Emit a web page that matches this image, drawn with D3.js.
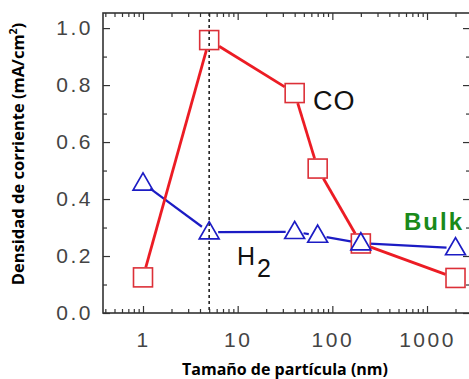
<!DOCTYPE html>
<html>
<head>
<meta charset="utf-8">
<script src="https://cdn.jsdelivr.net/npm/d3@7"></script>
<style>
  html, body { margin: 0; padding: 0; background: #fff; }
  svg { display: block; }
</style>
</head>
<body>
<div id="chart"></div>
<script>
// particle size (nm) and current density (mA/cm2)
const sizes = [1, 5, 40, 70, 200, 2000];
const coValues = [0.125, 0.958, 0.772, 0.507, 0.244, 0.123];
const h2Values = [0.455, 0.284, 0.285, 0.272, 0.245, 0.228];
const markedSize = 5;
const yTicks = [0, 0.2, 0.4, 0.6, 0.8, 1.0];
const yMinorTicks = [0.1, 0.3, 0.5, 0.7, 0.9];
const xTicks = [1, 10, 100, 1000];

const width = 469, height = 379;
const plotLeft = 103, plotRight = 470, plotTop = 13, plotBottom = 313;

const svg = d3.select('#chart').append('svg')
  .attr('width', width)
  .attr('height', height);

const x = d3.scaleLog().domain([0.378, 2845]).range([plotLeft, plotRight]);
const y = d3.scaleLinear().domain([0, 1.053]).range([plotBottom, plotTop]);

const xMinor = [];
[0.1, 1, 10, 100, 1000].forEach(dec => {
  for (let m = 2; m <= 9; m++) {
    const v = dec * m;
    if (v > x.domain()[0] && v < x.domain()[1]) xMinor.push(v);
  }
});

const tickColor = '#333';
const labelFont = 'Liberation Sans, Arial, sans-serif';

// axes with inward ticks
function drawAxis(axis, transform) {
  const g = svg.append('g').attr('transform', transform).call(axis);
  g.select('.domain').remove();
  g.selectAll('line').attr('stroke', tickColor).attr('stroke-width', 1.2);
  return g;
}

// bottom
const gb = drawAxis(d3.axisBottom(x).tickValues(xTicks).tickSize(-7).tickPadding(18)
  .tickFormat(d3.format('d')), `translate(0,${plotBottom})`);
gb.selectAll('text')
  .attr('font-family', labelFont).attr('font-size', 21).attr('fill', '#444')
  .attr('letter-spacing', 2.5).attr('dy', '0.75em');
drawAxis(d3.axisBottom(x).tickValues(xMinor).tickSize(-4).tickFormat(''), `translate(0,${plotBottom})`);

// top
drawAxis(d3.axisTop(x).tickValues(xTicks).tickSize(-7).tickFormat(''), `translate(0,${plotTop})`);
drawAxis(d3.axisTop(x).tickValues(xMinor).tickSize(-4).tickFormat(''), `translate(0,${plotTop})`);

// left
const gl = drawAxis(d3.axisLeft(y).tickValues(yTicks).tickSize(-7).tickPadding(10)
  .tickFormat(d3.format('.1f')), `translate(${plotLeft},0)`);
gl.selectAll('text')
  .attr('font-family', labelFont).attr('font-size', 21).attr('fill', '#444')
  .attr('letter-spacing', 2.5);
drawAxis(d3.axisLeft(y).tickValues(yMinorTicks).tickSize(-4).tickFormat(''), `translate(${plotLeft},0)`);

// right
drawAxis(d3.axisRight(y).tickValues(yTicks).tickSize(-7).tickFormat(''), `translate(${plotRight},0)`);
drawAxis(d3.axisRight(y).tickValues(yMinorTicks).tickSize(-4).tickFormat(''), `translate(${plotRight},0)`);

// frame
svg.append('rect')
  .attr('x', plotLeft).attr('y', plotTop)
  .attr('width', plotRight - plotLeft).attr('height', plotBottom - plotTop)
  .attr('fill', 'none').attr('stroke', tickColor).attr('stroke-width', 1.6);

// dashed marker line
svg.append('line')
  .attr('x1', x(markedSize)).attr('x2', x(markedSize))
  .attr('y1', plotTop).attr('y2', plotBottom)
  .attr('stroke', '#222').attr('stroke-width', 1.6)
  .attr('stroke-dasharray', '3,3');

// lines with gaps at the markers
function gappedSegments(values, gapFn) {
  const pts = sizes.map((s, i) => [x(s), y(values[i])]);
  const segs = [];
  for (let i = 0; i < pts.length - 1; i++) {
    const [x0, y0] = pts[i], [x1, y1] = pts[i + 1];
    const dx = x1 - x0, dy = y1 - y0, d = Math.hypot(dx, dy);
    const ux = dx / d, uy = dy / d;
    const g = gapFn(ux, uy);
    segs.push([[x0 + ux * g, y0 + uy * g], [x1 - ux * g, y1 - uy * g]]);
  }
  return segs;
}

const sqHalf = 9.5;
const squareGap = (ux, uy) => sqHalf / Math.max(Math.abs(ux), Math.abs(uy)) + 0.5;
const triGap = () => 9;

const red = '#ec1c24', blue = '#1c1cc4';

svg.append('g').selectAll('line')
  .data(gappedSegments(h2Values, triGap))
  .join('line')
  .attr('x1', d => d[0][0]).attr('y1', d => d[0][1])
  .attr('x2', d => d[1][0]).attr('y2', d => d[1][1])
  .attr('stroke', blue).attr('stroke-width', 2.2);

svg.append('g').selectAll('line')
  .data(gappedSegments(coValues, squareGap))
  .join('line')
  .attr('x1', d => d[0][0]).attr('y1', d => d[0][1])
  .attr('x2', d => d[1][0]).attr('y2', d => d[1][1])
  .attr('stroke', red).attr('stroke-width', 2.8);

// square markers (CO)
svg.append('g').selectAll('rect')
  .data(sizes.map((s, i) => [s, coValues[i]]))
  .join('rect')
  .attr('x', d => x(d[0]) - sqHalf).attr('y', d => y(d[1]) - sqHalf)
  .attr('width', sqHalf * 2).attr('height', sqHalf * 2)
  .attr('fill', 'none').attr('stroke', '#dc3038').attr('stroke-width', 1.6);

// triangle markers (H2)
const tri = d3.symbol().type(d3.symbolTriangle).size(170);
svg.append('g').selectAll('path')
  .data(sizes.map((s, i) => [s, h2Values[i]]))
  .join('path')
  .attr('d', tri)
  .attr('transform', d => `translate(${x(d[0])},${y(d[1]) + 1})`)
  .attr('fill', 'none').attr('stroke', blue).attr('stroke-width', 1.7);

// annotations
svg.append('text')
  .attr('x', 313).attr('y', 110)
  .attr('font-family', labelFont).attr('font-size', 27).attr('fill', '#111')
  .attr('letter-spacing', 1)
  .text('CO');

const h2 = svg.append('text')
  .attr('x', 237).attr('y', 265)
  .attr('font-family', labelFont).attr('font-size', 25).attr('fill', '#111');
h2.append('tspan').text('H');
h2.append('tspan').attr('dx', 2).attr('dy', 12).text('2');

svg.append('text')
  .attr('x', 404).attr('y', 230)
  .attr('font-family', labelFont).attr('font-size', 24).attr('font-weight', 'bold')
  .attr('fill', '#1a8a1a').attr('letter-spacing', 2)
  .text('Bulk');

// axis titles
svg.append('text')
  .attr('x', 285).attr('y', 375)
  .attr('text-anchor', 'middle')
  .attr('font-family', 'Open Sans, sans-serif').attr('font-size', 16).attr('font-weight', 'bold')
  .attr('fill', '#000')
  .text('Tamaño de partícula (nm)');

const yt = svg.append('text')
  .attr('transform', `translate(24,${154}) rotate(-90)`)
  .attr('text-anchor', 'middle')
  .attr('font-family', 'Open Sans, sans-serif').attr('font-size', 16.5).attr('font-weight', 'bold')
  .attr('fill', '#000');
yt.append('tspan').text('Densidad de corriente (mA/cm');
yt.append('tspan').attr('dy', -7).attr('font-size', 10.5).text('2');
yt.append('tspan').attr('dy', 7).text(')');
</script>
</body>
</html>
